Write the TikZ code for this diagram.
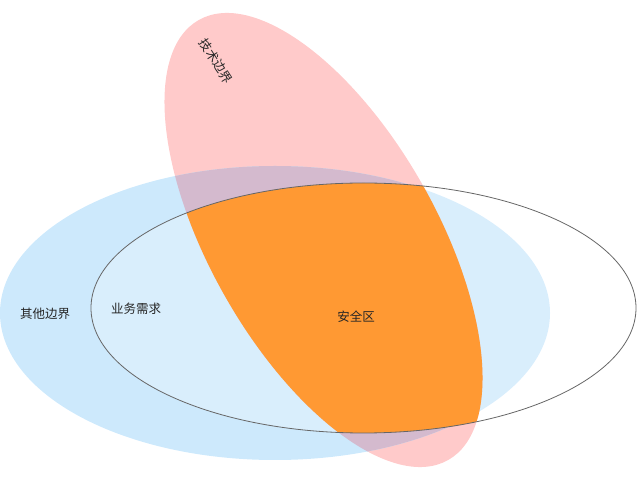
\documentclass[tikz,border=0pt]{standalone}
\usepackage{fontspec}
\setmainfont{Noto Sans CJK SC}
\usetikzlibrary{positioning}
\definecolor{techpink}{HTML}{FFCACA}
\definecolor{otherblue}{HTML}{CDE9FC}
\definecolor{mixpurple}{HTML}{D4BACE}
\definecolor{safeorange}{HTML}{FF9933}
\definecolor{needgray}{HTML}{666666}

\begin{document}
\begin{tikzpicture}[x=1pt,y=1pt]
\tikzstyle{label} = [font=\fontsize{12.5}{14}\selectfont, text=black!85, inner sep=0pt]
\def\techpath{(323.5,239) ellipse [x radius=252.9pt, y radius=113.4pt, rotate=-60.45]}
\def\otherpath{(275,166) ellipse [x radius=275pt, y radius=147pt]}
\def\needpath{(363.5,171) ellipse [x radius=272.5pt, y radius=125pt]}

\useasboundingbox (0,0) rectangle (637,479);

% areas
\fill [techpink] \techpath;
\fill [otherblue] \otherpath;
\begin{scope}
\clip \techpath;
\fill [mixpurple] \otherpath;
\end{scope}
\fill [white, fill opacity=0.25] \needpath;
\begin{scope}
\clip \needpath;
\fill [safeorange] \techpath;
\end{scope}
\draw [needgray, line width=0.8pt] \needpath;

% labels
\node (tech) [label, rotate=-57] at (216,418) {技术边界};
\node (other) [label] at (45,165) {其他边界};
\node (need) [label] at (136,170) {业务需求};
\node (safe) [label] at (356,162) {安全区};
\end{tikzpicture}
\end{document}
